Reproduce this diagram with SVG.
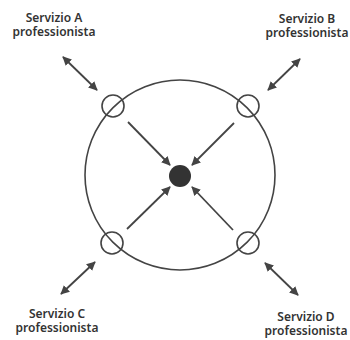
<svg xmlns="http://www.w3.org/2000/svg" width="350" height="340" viewBox="0 0 350 340">
<style>
.lbl{font-family:"Noto Sans","DejaVu Sans",sans-serif;font-size:12px;font-weight:600;fill:#333;text-anchor:middle}
.ring{fill:none;stroke:#444;stroke-width:1.6}
.node{fill:none;stroke:#444;stroke-width:1.6}
.arr{stroke:#444;stroke-width:1.8;fill:none}
</style>
<defs>
<marker id="ah" viewBox="0 0 10 10" refX="9" refY="5" markerWidth="9" markerHeight="9" markerUnits="userSpaceOnUse" orient="auto-start-reverse">
<path d="M0,0 L10,5 L0,10 z" fill="#444"/>
</marker>
</defs>
<rect width="350" height="340" fill="#fff"/>
<g id="ring"><circle class="ring" cx="180" cy="175" r="95"/></g>
<g id="centro"><circle cx="180" cy="176" r="11" fill="#333"/></g>
<g id="nodoA"><circle class="node" cx="113" cy="106" r="11"/></g>
<g id="nodoB"><circle class="node" cx="248" cy="106" r="11"/></g>
<g id="nodoC"><circle class="node" cx="112" cy="243" r="11"/></g>
<g id="nodoD"><circle class="node" cx="248" cy="243" r="11"/></g>
<g id="servizioA"><text class="lbl" x="54" y="22">Servizio A</text><text class="lbl" x="54" y="36">professionista</text></g>
<g id="servizioB"><text class="lbl" x="307" y="23">Servizio B</text><text class="lbl" x="307" y="37">professionista</text></g>
<g id="servizioC"><text class="lbl" x="57" y="318">Servizio C</text><text class="lbl" x="57" y="332">professionista</text></g>
<g id="servizioD"><text class="lbl" x="306" y="321">Servizio D</text><text class="lbl" x="306" y="335">professionista</text></g>
<g id="connettori">
<line class="arr" x1="63" y1="57" x2="97" y2="90" marker-start="url(#ah)" marker-end="url(#ah)"/>
<line class="arr" x1="300" y1="59" x2="268" y2="90" marker-start="url(#ah)" marker-end="url(#ah)"/>
<line class="arr" x1="95" y1="262" x2="61" y2="294" marker-start="url(#ah)" marker-end="url(#ah)"/>
<line class="arr" x1="265" y1="263" x2="298" y2="295" marker-start="url(#ah)" marker-end="url(#ah)"/>
<line class="arr" x1="128" y1="122" x2="170" y2="165" marker-end="url(#ah)"/>
<line class="arr" x1="234" y1="123" x2="192" y2="165" marker-end="url(#ah)"/>
<line class="arr" x1="127" y1="229" x2="170" y2="187" marker-end="url(#ah)"/>
<line class="arr" x1="233" y1="230" x2="192" y2="187" marker-end="url(#ah)"/>
</g>
</svg>
